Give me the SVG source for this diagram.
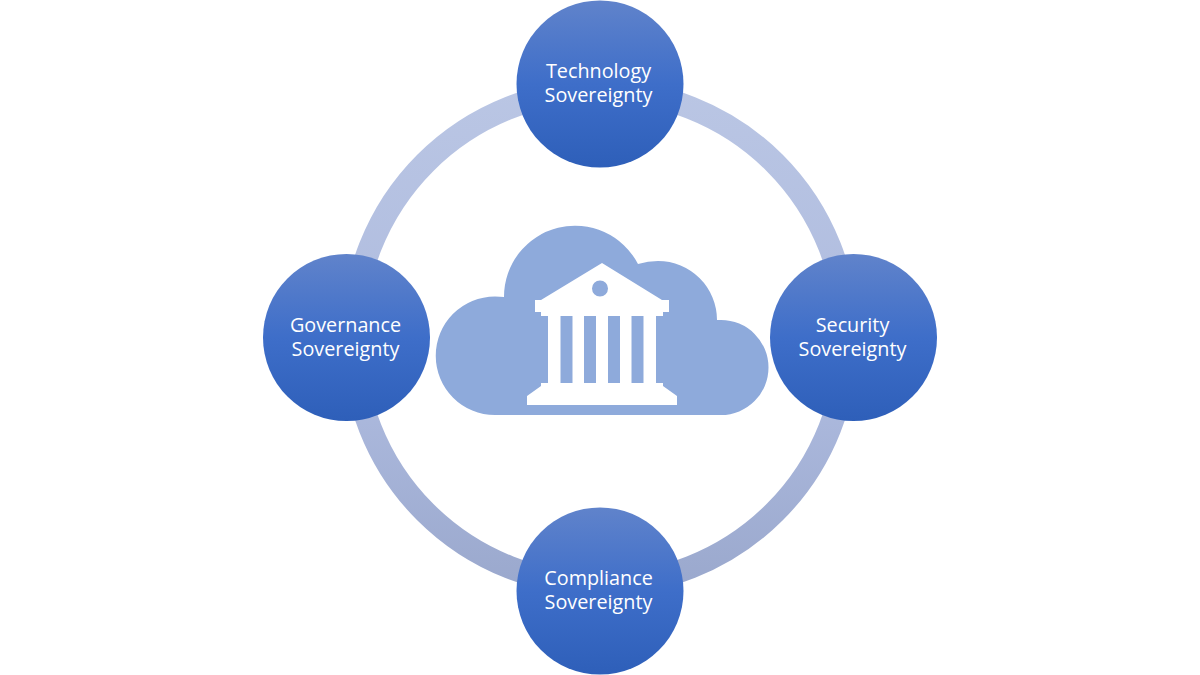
<svg xmlns="http://www.w3.org/2000/svg" width="1200" height="675" viewBox="0 0 1200 675">
<style>
.n{fill:url(#g)}
.t{font-family:"Open Sans","Noto Sans",sans-serif;font-size:19.8px;fill:#fff;text-anchor:middle}
</style>
<defs>
<linearGradient id="g" x1="0" y1="0" x2="0" y2="1"><stop offset="0" stop-color="#6083cb"/><stop offset=".5" stop-color="#3e6ec9"/><stop offset="1" stop-color="#2e5fb9"/></linearGradient>
<linearGradient id="r" gradientUnits="userSpaceOnUse" x1="0" y1="84" x2="0" y2="591"><stop offset="0" stop-color="#bac6e4"/><stop offset=".6" stop-color="#adbade"/><stop offset="1" stop-color="#9aa8cd"/></linearGradient>
</defs>
<rect width="1200" height="675" fill="#fff"/>
<g id="connectors"><circle cx="600" cy="337.5" r="247" fill="none" stroke="url(#r)" stroke-width="23"/></g>
<g id="center">
<path fill="#8eaadb" d="M495 415A59.250 59.250 0 0 1 495 296.500Q500 296.500 504 297A71 71 0 0 1 638 264Q648 261 658 261A59 59 0 0 1 717 320L721 320A47.500 47.500 0 0 1 721 415Z"/>
<path fill="#fff" fill-rule="evenodd" d="M602 263L662 300H669V312H663V316H656V383H663V386L677 396V405H527V396L541 386V383H548V316H541V312H535V300H541ZM560.500 316V383H572.500V316ZM584 316V383H596V316ZM608 316V383H620V316ZM631.500 316V383H643.500V316ZM600 280.500A8 8 0 1 0 600 296.500A8 8 0 1 0 600 280.500Z"/>
</g>
<g id="technology"><circle class="n" cx="600" cy="84" r="83.500"/><text class="t" x="598.500" y="78">Technology</text><text class="t" x="598.500" y="102">Sovereignty</text></g>
<g id="security"><circle class="n" cx="853.500" cy="337.500" r="83.500"/><text class="t" x="852.500" y="332">Security</text><text class="t" x="852.500" y="356">Sovereignty</text></g>
<g id="compliance"><circle class="n" cx="600" cy="591" r="83.500"/><text class="t" x="598.500" y="585">Compliance</text><text class="t" x="598.500" y="609">Sovereignty</text></g>
<g id="governance"><circle class="n" cx="346.500" cy="337.500" r="83.500"/><text class="t" x="345.500" y="332">Governance</text><text class="t" x="345.500" y="356">Sovereignty</text></g>
</svg>
